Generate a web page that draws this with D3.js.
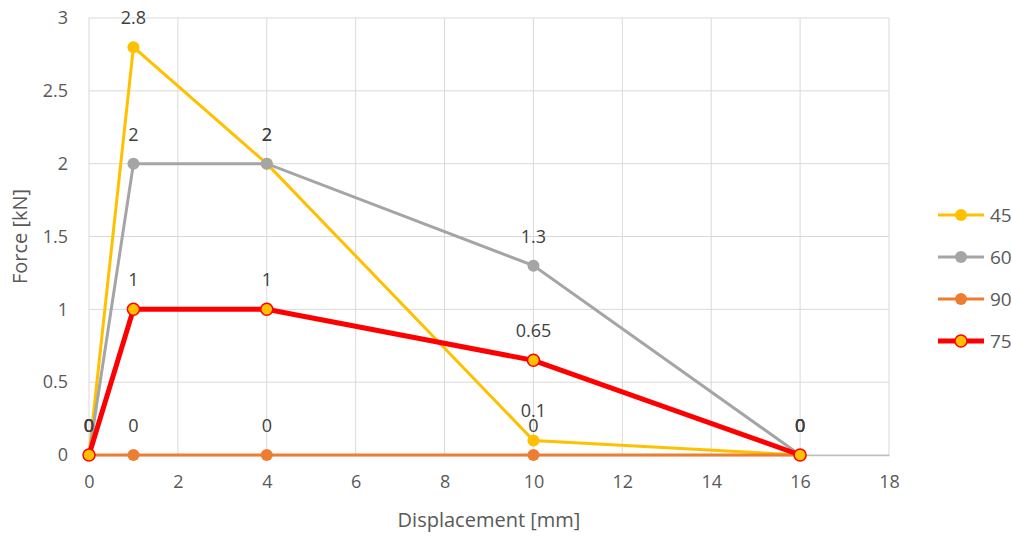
<!DOCTYPE html>
<html>
<head>
<meta charset="utf-8">
<script src="https://cdn.jsdelivr.net/npm/d3@7"></script>
<style>
  body { margin: 0; background: #fff; }
  text { font-family: "Open Sans", "Noto Sans", sans-serif; fill: #595959; }
</style>
</head>
<body>
<div class="vis-linechart"></div>
<script>
// chart data
const displacement = [0, 1, 4, 10, 16];
const seriesNames = ["45", "60", "90", "75"];
const force45 = [0, 2.8, 2, 0.1, 0];
const force60 = [0, 2, 2, 1.3, 0];
const force90 = [0, 0, 0, 0, 0];
const force75 = [0, 1, 1, 0.65, 0];
const xTicks = [0, 2, 4, 6, 8, 10, 12, 14, 16, 18];
const yTicks = [0, 0.5, 1, 1.5, 2, 2.5, 3];

const series = [
  { name: seriesNames[0], values: force45, color: "#FFC000", fill: "#FFC000", width: 3 },
  { name: seriesNames[1], values: force60, color: "#A5A5A5", fill: "#A5A5A5", width: 3 },
  { name: seriesNames[2], values: force90, color: "#ED7D31", fill: "#ED7D31", width: 3 },
  { name: seriesNames[3], values: force75, color: "#FF0000", fill: "#FFC000", width: 5 }
];

const W = 1012, H = 536;
let margin = { top: 18, right: 123, bottom: 81, left: 89 };
const width = W - margin.left - margin.right;
const height = H - margin.top - margin.bottom;

let svg = d3.select(".vis-linechart")
  .append("svg")
  .attr("width", W)
  .attr("height", H);

let g = svg.append("g")
  .attr("transform", "translate(" + margin.left + "," + margin.top + ")");

let x = d3.scaleLinear().domain([0, 18]).range([0, width]);
let y = d3.scaleLinear().domain([0, 3]).range([height, 0]);

// grid
g.selectAll(".hgrid").data(yTicks).enter().append("line")
  .attr("x1", 0).attr("x2", width)
  .attr("y1", d => y(d)).attr("y2", d => y(d))
  .attr("stroke", "#D9D9D9").attr("stroke-width", 1);
g.selectAll(".vgrid").data(xTicks).enter().append("line")
  .attr("x1", d => x(d)).attr("x2", d => x(d))
  .attr("y1", 0).attr("y2", height)
  .attr("stroke", "#D9D9D9").attr("stroke-width", 1);

// axes
let xAxis = g.append("g")
  .attr("transform", "translate(0," + height + ")")
  .call(d3.axisBottom(x).tickValues(xTicks).tickSize(0).tickPadding(20));
xAxis.select(".domain").attr("stroke", "#BFBFBF").attr("stroke-width", 1.5);
xAxis.selectAll("text").style("font-size", "18px").attr("fill", "#595959");

let yAxis = g.append("g")
  .call(d3.axisLeft(y).tickValues(yTicks).tickSize(0).tickPadding(21).tickFormat(d3.format("")));
yAxis.select(".domain").remove();
yAxis.selectAll("text").style("font-size", "18px").attr("fill", "#595959");

// axis titles
svg.append("text")
  .attr("transform", "rotate(-90)")
  .attr("x", -(margin.top + height / 2))
  .attr("y", 27)
  .style("text-anchor", "middle")
  .style("font-size", "20px")
  .text("Force [kN]");

svg.append("text")
  .attr("x", margin.left + width / 2)
  .attr("y", 527)
  .style("text-anchor", "middle")
  .style("font-size", "20px")
  .text("Displacement [mm]");

let line = d3.line()
  .x((d, i) => x(displacement[i]))
  .y(d => y(d));

series.forEach(s => {
  g.append("path")
    .datum(s.values)
    .attr("fill", "none")
    .attr("stroke", s.color)
    .attr("stroke-width", s.width)
    .attr("d", line);
  g.selectAll(".dot-" + s.name).data(s.values).enter().append("circle")
    .attr("cx", (d, i) => x(displacement[i]))
    .attr("cy", d => y(d))
    .attr("r", 6)
    .attr("fill", s.fill)
    .attr("stroke", s.color)
    .attr("stroke-width", s.name === "75" ? 1.5 : 0);
});

// data labels
series.forEach(s => {
  g.selectAll(".lbl-" + s.name).data(s.values).enter().append("text")
    .attr("x", (d, i) => x(displacement[i]))
    .attr("y", d => y(d) - 23)
    .style("text-anchor", "middle")
    .style("font-size", "18px")
    .style("fill", "#404040")
    .text(d => d);
});

// legend
let legend = svg.append("g").attr("transform", "translate(938,215)");
series.forEach((s, i) => {
  let row = legend.append("g").attr("transform", "translate(0," + (i * 42) + ")");
  row.append("line")
    .attr("x1", 0).attr("x2", 46)
    .attr("stroke", s.color).attr("stroke-width", s.width);
  row.append("circle")
    .attr("cx", 23).attr("r", 6)
    .attr("fill", s.fill).attr("stroke", s.color)
    .attr("stroke-width", s.name === "75" ? 1.5 : 0);
  row.append("text")
    .attr("x", 52).attr("y", 7)
    .style("font-size", "19px")
    .text(s.name);
});
</script>
</body>
</html>
